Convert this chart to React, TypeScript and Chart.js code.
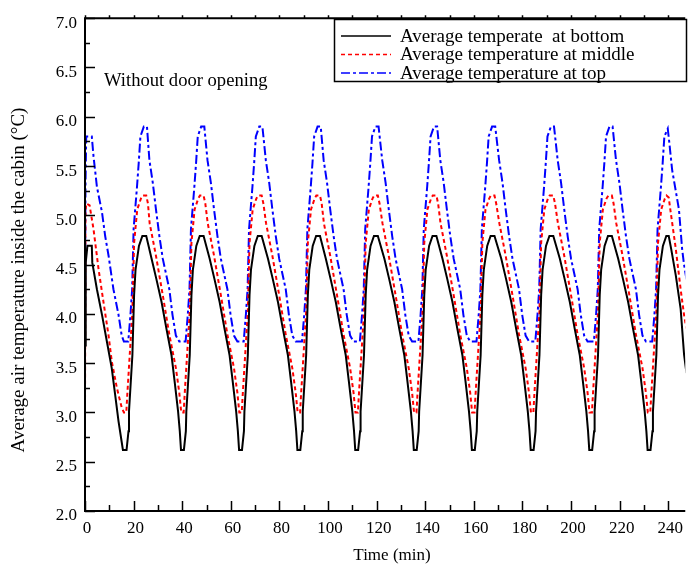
import React, { useEffect, useRef } from 'react';
import { Chart, registerables } from 'chart.js';

Chart.register(...registerables);

const FONT = "'Liberation Serif', 'Times New Roman', Times, serif";

const xTitle = 'Time (min)';
const yTitle = 'Average air temperature inside the cabin (°C)';
const noteText = 'Without door opening';
const seriesNames = ['Average temperate  at bottom', 'Average temperature at middle', 'Average temperature at top'];
const seriesColors = ['#000000', '#ff0000', '#0000ff'];
const seriesDash = [[], [4, 3], [9, 3, 3, 3]];

const xMin = 0;
const xMax = 247;
const xStep = 20;
const xMinorStep = 10;
const yMin = 2;
const yMax = 7;
const yStep = 0.5;
const yMinorStep = 0.25;

// Average temperature at bottom (black)
const bottomTime = [
  0, 0.3, 1.0, 2.8, 3.0, 4.9, 7.0, 9.0, 11.0, 12.4, 13.8, 15.1, 15.6,
  17.1, 17.9, 18.1, 19.5, 20.2, 20.8, 22.2, 23.6, 25.2,
  27.4, 29.4, 31.5, 33.5, 35.6, 36.9, 38.3, 39.0, 39.5, 40.7, 41.5, 41.7, 43.1, 43.8, 44.4, 45.8, 47.2, 48.8,
  51.3, 53.3, 55.4, 57.4, 59.5, 60.8, 62.2, 62.9, 63.4, 64.6, 65.4, 65.6, 67.0, 67.7, 68.3, 69.7, 71.1, 72.7,
  75.3, 77.3, 79.4, 81.4, 83.5, 84.8, 86.2, 86.9, 87.4, 88.6, 89.4, 89.6, 91.0, 91.7, 92.3, 93.7, 95.1, 96.7,
  99.1, 101.1, 103.2, 105.2, 107.3, 108.6, 110.0, 110.7, 111.2, 112.4, 113.2, 113.4, 114.8, 115.5, 116.1, 117.5, 118.9, 120.5,
  123.2, 125.2, 127.3, 129.3, 131.4, 132.7, 134.1, 134.8, 135.3, 136.5, 137.3, 137.5, 138.9, 139.6, 140.2, 141.6, 143.0, 144.6,
  147.1, 149.1, 151.2, 153.2, 155.3, 156.6, 158.0, 158.7, 159.2, 160.4, 161.2, 161.4, 162.8, 163.5, 164.1, 165.5, 166.9, 168.5,
  171.3, 173.3, 175.4, 177.4, 179.5, 180.8, 182.2, 182.9, 183.4, 184.6, 185.4, 185.6, 187.0, 187.7, 188.3, 189.7, 191.1, 192.7,
  195.4, 197.4, 199.5, 201.5, 203.6, 204.9, 206.3, 207.0, 207.5, 208.7, 209.5, 209.7, 211.1, 211.8, 212.4, 213.8, 215.2, 216.8,
  219.4, 221.4, 223.5, 225.5, 227.6, 228.9, 230.3, 231.0, 231.5, 232.7, 233.5, 233.7, 235.1, 235.8, 236.4, 237.8, 239.2, 240.2,
  241.2, 243.1, 245.1, 246.5, 247.5,
];
const bottomTemp = [
  3.68, 4.52, 4.69, 4.69, 4.52, 4.25, 3.99, 3.72, 3.45, 3.18, 2.91, 2.70, 2.62,
  2.62, 2.81, 3.01, 3.58, 4.19, 4.45, 4.69, 4.79, 4.79,
  4.56, 4.35, 4.12, 3.85, 3.58, 3.31, 3.01, 2.81, 2.62, 2.62, 2.81, 3.01, 3.58, 4.19, 4.45, 4.69, 4.79, 4.79,
  4.56, 4.35, 4.12, 3.85, 3.58, 3.31, 3.01, 2.81, 2.62, 2.62, 2.81, 3.01, 3.58, 4.19, 4.45, 4.69, 4.79, 4.79,
  4.56, 4.35, 4.12, 3.85, 3.58, 3.31, 3.01, 2.81, 2.62, 2.62, 2.81, 3.01, 3.58, 4.19, 4.45, 4.69, 4.79, 4.79,
  4.56, 4.35, 4.12, 3.85, 3.58, 3.31, 3.01, 2.81, 2.62, 2.62, 2.81, 3.01, 3.58, 4.19, 4.45, 4.69, 4.79, 4.79,
  4.56, 4.35, 4.12, 3.85, 3.58, 3.31, 3.01, 2.81, 2.62, 2.62, 2.81, 3.01, 3.58, 4.19, 4.45, 4.69, 4.79, 4.79,
  4.56, 4.35, 4.12, 3.85, 3.58, 3.31, 3.01, 2.81, 2.62, 2.62, 2.81, 3.01, 3.58, 4.19, 4.45, 4.69, 4.79, 4.79,
  4.56, 4.35, 4.12, 3.85, 3.58, 3.31, 3.01, 2.81, 2.62, 2.62, 2.81, 3.01, 3.58, 4.19, 4.45, 4.69, 4.79, 4.79,
  4.56, 4.35, 4.12, 3.85, 3.58, 3.31, 3.01, 2.81, 2.62, 2.62, 2.81, 3.01, 3.58, 4.19, 4.45, 4.69, 4.79, 4.79,
  4.56, 4.35, 4.12, 3.85, 3.58, 3.31, 3.01, 2.81, 2.62, 2.62, 2.81, 3.01, 3.58, 4.19, 4.45, 4.69, 4.79, 4.79,
  4.66, 4.39, 4.05, 3.59, 3.40,
];

// Average temperature at middle (red)
const middleTime = [
  0, 0.2, 0.6, 1.9, 3.5, 5.6, 7.6, 9.7, 11.0, 13.1, 15.1, 16.0,
  17.0, 17.4, 19.5, 20.2, 21.5, 23.0, 23.7, 25.2, 25.9,
  26.6, 29.2, 32.0, 34.7, 37.4, 38.8, 39.6, 40.6, 41.0, 43.1, 43.8, 45.1, 46.6, 47.3, 48.8, 49.5,
  50.5, 53.1, 55.9, 58.6, 61.3, 62.7, 63.5, 64.5, 64.9, 67.0, 67.7, 69.0, 70.5, 71.2, 72.7, 73.4,
  74.5, 77.1, 79.9, 82.6, 85.3, 86.7, 87.5, 88.5, 88.9, 91.0, 91.7, 93.0, 94.5, 95.2, 96.7, 97.4,
  98.3, 100.9, 103.7, 106.4, 109.1, 110.5, 111.3, 112.3, 112.7, 114.8, 115.5, 116.8, 118.3, 119.0, 120.5, 121.2,
  122.4, 125.0, 127.8, 130.5, 133.2, 134.6, 135.4, 136.4, 136.8, 138.9, 139.6, 140.9, 142.4, 143.1, 144.6, 145.3,
  146.3, 148.9, 151.7, 154.4, 157.1, 158.5, 159.3, 160.3, 160.7, 162.8, 163.5, 164.8, 166.3, 167.0, 168.5, 169.2,
  170.5, 173.1, 175.9, 178.6, 181.3, 182.7, 183.5, 184.5, 184.9, 187.0, 187.7, 189.0, 190.5, 191.2, 192.7, 193.4,
  194.6, 197.2, 200.0, 202.7, 205.4, 206.8, 207.6, 208.6, 209.0, 211.1, 211.8, 213.1, 214.6, 215.3, 216.8, 217.5,
  218.6, 221.2, 224.0, 226.7, 229.4, 230.8, 231.6, 232.6, 233.0, 235.1, 235.8, 237.1, 238.6,
  239.3, 240.2, 240.9, 243.1, 245.1, 246.5, 247.5,
];
const middleTemp = [
  3.0, 5.05, 5.12, 5.1, 4.86, 4.45, 4.12, 3.78, 3.52, 3.25, 3.05, 3.0,
  3.0, 3.18, 4.02, 4.72, 5.06, 5.17, 5.2, 5.2, 5.12,
  4.92, 4.59, 4.19, 3.79, 3.45, 3.2, 3.0, 3.0, 3.18, 4.02, 4.72, 5.06, 5.17, 5.2, 5.2, 5.12,
  4.92, 4.59, 4.19, 3.79, 3.45, 3.2, 3.0, 3.0, 3.18, 4.02, 4.72, 5.06, 5.17, 5.2, 5.2, 5.12,
  4.92, 4.59, 4.19, 3.79, 3.45, 3.2, 3.0, 3.0, 3.18, 4.02, 4.72, 5.06, 5.17, 5.2, 5.2, 5.12,
  4.92, 4.59, 4.19, 3.79, 3.45, 3.2, 3.0, 3.0, 3.18, 4.02, 4.72, 5.06, 5.17, 5.2, 5.2, 5.12,
  4.92, 4.59, 4.19, 3.79, 3.45, 3.2, 3.0, 3.0, 3.18, 4.02, 4.72, 5.06, 5.17, 5.2, 5.2, 5.12,
  4.92, 4.59, 4.19, 3.79, 3.45, 3.2, 3.0, 3.0, 3.18, 4.02, 4.72, 5.06, 5.17, 5.2, 5.2, 5.12,
  4.92, 4.59, 4.19, 3.79, 3.45, 3.2, 3.0, 3.0, 3.18, 4.02, 4.72, 5.06, 5.17, 5.2, 5.2, 5.12,
  4.92, 4.59, 4.19, 3.79, 3.45, 3.2, 3.0, 3.0, 3.18, 4.02, 4.72, 5.06, 5.17, 5.2, 5.2, 5.12,
  4.92, 4.59, 4.19, 3.79, 3.45, 3.2, 3.0, 3.0, 3.18, 4.02, 4.72, 5.06, 5.17,
  5.2, 5.18, 5.05, 4.66, 4.25, 3.99, 3.85,
];

// Average temperature at top (blue)
const topTime = [
  0, 0.2, 0.5, 2.8, 3.5, 4.9, 7.0, 8.3, 9.7, 11.7, 13.8, 15.1, 16.0,
  17.8, 18.7, 19.4, 20.0, 21.4, 22.1, 22.8, 24.2, 25.5,
  26.5, 27.9, 29.2, 30.6, 32.0, 34.7, 36.0, 37.4, 38.8, 41.4, 42.3, 43.0, 43.6, 45.0, 45.7, 46.4, 47.8, 49.1,
  50.4, 51.8, 53.1, 54.5, 55.9, 58.6, 59.9, 61.3, 62.7, 65.3, 66.2, 66.9, 67.5, 68.9, 69.6, 70.3, 71.7, 73.0,
  74.4, 75.8, 77.1, 78.5, 79.9, 82.6, 83.9, 85.3, 86.7, 89.3, 90.2, 90.9, 91.5, 92.9, 93.6, 94.3, 95.7, 97.0,
  98.2, 99.6, 100.9, 102.3, 103.7, 106.4, 107.7, 109.1, 110.5, 113.1, 114.0, 114.7, 115.3, 116.7, 117.4, 118.1, 119.5, 120.8,
  122.3, 123.7, 125.0, 126.4, 127.8, 130.5, 131.8, 133.2, 134.6, 137.2, 138.1, 138.8, 139.4, 140.8, 141.5, 142.2, 143.6, 144.9,
  146.2, 147.6, 148.9, 150.3, 151.7, 154.4, 155.7, 157.1, 158.5, 161.1, 162.0, 162.7, 163.3, 164.7, 165.4, 166.1, 167.5, 168.8,
  170.4, 171.8, 173.1, 174.5, 175.9, 178.6, 179.9, 181.3, 182.7, 185.3, 186.2, 186.9, 187.5, 188.9, 189.6, 190.3, 191.7, 193.0,
  194.5, 195.9, 197.2, 198.6, 200.0, 202.7, 204.0, 205.4, 206.8, 209.4, 210.3, 211.0, 211.6, 213.0, 213.7, 214.4, 215.8, 217.1,
  218.5, 219.9, 221.2, 222.6, 224.0, 226.7, 228.0, 229.4, 230.8, 233.4, 234.3, 235.0, 235.6, 237.0, 237.7, 238.4,
  239.8, 240.6, 241.6, 244.4, 245.7, 246.5, 247.5,
];
const topTemp = [
  3.72, 5.3, 5.8, 5.8, 5.6, 5.29, 5.03, 4.79, 4.59, 4.25, 3.99, 3.78, 3.72,
  3.72, 3.99, 4.25, 4.86, 5.29, 5.53, 5.8, 5.9, 5.9,
  5.56, 5.33, 5.06, 4.79, 4.56, 4.25, 3.99, 3.78, 3.72, 3.72, 3.99, 4.25, 4.86, 5.29, 5.53, 5.8, 5.9, 5.9,
  5.56, 5.33, 5.06, 4.79, 4.56, 4.25, 3.99, 3.78, 3.72, 3.72, 3.99, 4.25, 4.86, 5.29, 5.53, 5.8, 5.9, 5.9,
  5.56, 5.33, 5.06, 4.79, 4.56, 4.25, 3.99, 3.78, 3.72, 3.72, 3.99, 4.25, 4.86, 5.29, 5.53, 5.8, 5.9, 5.9,
  5.56, 5.33, 5.06, 4.79, 4.56, 4.25, 3.99, 3.78, 3.72, 3.72, 3.99, 4.25, 4.86, 5.29, 5.53, 5.8, 5.9, 5.9,
  5.56, 5.33, 5.06, 4.79, 4.56, 4.25, 3.99, 3.78, 3.72, 3.72, 3.99, 4.25, 4.86, 5.29, 5.53, 5.8, 5.9, 5.9,
  5.56, 5.33, 5.06, 4.79, 4.56, 4.25, 3.99, 3.78, 3.72, 3.72, 3.99, 4.25, 4.86, 5.29, 5.53, 5.8, 5.9, 5.9,
  5.56, 5.33, 5.06, 4.79, 4.56, 4.25, 3.99, 3.78, 3.72, 3.72, 3.99, 4.25, 4.86, 5.29, 5.53, 5.8, 5.9, 5.9,
  5.56, 5.33, 5.06, 4.79, 4.56, 4.25, 3.99, 3.78, 3.72, 3.72, 3.99, 4.25, 4.86, 5.29, 5.53, 5.8, 5.9, 5.9,
  5.56, 5.33, 5.06, 4.79, 4.56, 4.25, 3.99, 3.78, 3.72, 3.72, 3.99, 4.25, 4.86, 5.29, 5.53, 5.8,
  5.88, 5.7, 5.46, 5.06, 4.66, 4.5, 4.35,
];

const toPoints = (xs: number[], ys: number[]) => xs.map((x, i) => ({ x, y: ys[i] }));

export default function App() {
  const ref = useRef<HTMLCanvasElement>(null);

  useEffect(() => {
    const canvas = ref.current;
    if (!canvas) return;

    const framePlugin = {
      id: 'framePlugin',
      afterDraw(chart: any) {
        const { ctx, chartArea: a, scales } = chart;
        const xs = scales.x;
        const ys = scales.y;
        ctx.save();
        ctx.setLineDash([]);
        ctx.strokeStyle = '#000';
        ctx.lineWidth = 2;
        ctx.beginPath();
        ctx.moveTo(a.left - 1, a.top);
        ctx.lineTo(a.right, a.top);
        ctx.moveTo(a.left, a.top - 1);
        ctx.lineTo(a.left, a.bottom + 1);
        ctx.moveTo(a.left - 1, a.bottom);
        ctx.lineTo(a.right, a.bottom);
        ctx.stroke();

        // inward ticks
        ctx.lineWidth = 1.5;
        ctx.beginPath();
        const nY = Math.round((yMax - yMin) / yMinorStep);
        for (let i = 0; i <= nY; i++) {
          const v = yMin + i * yMinorStep;
          const py = Math.round(ys.getPixelForValue(v)) + 0.5;
          const major = i % Math.round(yStep / yMinorStep) === 0;
          ctx.moveTo(a.left, py);
          ctx.lineTo(a.left + (major ? 10 : 5), py);
        }
        const nX = Math.floor((xMax - xMin) / xMinorStep);
        for (let i = 0; i <= nX; i++) {
          const v = xMin + i * xMinorStep;
          const px = Math.round(xs.getPixelForValue(v)) + 0.5;
          const major = i % Math.round(xStep / xMinorStep) === 0;
          ctx.moveTo(px, a.bottom);
          ctx.lineTo(px, a.bottom - (major ? 10 : 6));
          ctx.moveTo(px, a.top);
          ctx.lineTo(px, a.top - 3);
        }
        ctx.stroke();

        // legend box
        const lx = 334.5, ly = 19.5, lw = 352, lh = 62;
        ctx.fillStyle = '#fff';
        ctx.fillRect(lx, ly, lw, lh);
        ctx.lineWidth = 1.5;
        ctx.strokeRect(lx, ly, lw, lh);
        ctx.font = `19px ${FONT}`;
        ctx.textBaseline = 'middle';
        ctx.textAlign = 'left';
        chart.data.datasets.forEach((ds: any, i: number) => {
          const ry = 36 + i * 18.5;
          ctx.save();
          ctx.strokeStyle = ds.borderColor;
          ctx.lineWidth = 1.5;
          ctx.setLineDash(ds.borderDash || []);
          ctx.beginPath();
          ctx.moveTo(341, ry);
          ctx.lineTo(391, ry);
          ctx.stroke();
          ctx.restore();
          ctx.fillStyle = '#000';
          ctx.fillText(ds.label, 400, ry + 1);
        });

        // annotation
        ctx.fillStyle = '#000';
        ctx.font = `18.6px ${FONT}`;
        ctx.textAlign = 'left';
        ctx.textBaseline = 'middle';
        ctx.fillText(noteText, 104, 81);

        // axis titles
        ctx.textAlign = 'center';
        ctx.font = `17px ${FONT}`;
        ctx.fillText(xTitle, 392, 556);
        ctx.save();
        ctx.translate(19, 280);
        ctx.rotate(-Math.PI / 2);
        ctx.font = `19px ${FONT}`;
        ctx.fillText(yTitle, 0, 0);
        ctx.restore();
        ctx.restore();
      },
    };

    const datasets = [
      toPoints(bottomTime, bottomTemp),
      toPoints(middleTime, middleTemp),
      toPoints(topTime, topTemp),
    ].map((data, i) => ({
      label: seriesNames[i],
      data,
      borderColor: seriesColors[i],
      backgroundColor: seriesColors[i],
      borderWidth: 2,
      borderDash: seriesDash[i],
      pointRadius: 0,
      fill: false,
      tension: 0,
    }));

    const chart = new Chart(canvas, {
      type: 'line',
      data: { datasets },
      options: {
        animation: false,
        responsive: false,
        devicePixelRatio: 1,
        layout: { padding: { top: 14, left: 0, right: 0, bottom: 0 } },
        plugins: {
          legend: { display: false },
          tooltip: { enabled: false },
          title: { display: false },
        },
        scales: {
          x: {
            type: 'linear',
            min: xMin,
            max: xMax,
            afterFit: (s: any) => { s.height = 56; },
            grid: { display: false, drawTicks: false },
            border: { display: false },
            ticks: {
              stepSize: xStep,
              includeBounds: false,
              autoSkip: false,
              maxRotation: 0,
              padding: 7,
              labelOffset: 2,
              color: '#000',
              font: { family: FONT, size: 17 },
            },
          },
          y: {
            type: 'linear',
            min: yMin,
            max: yMax,
            afterFit: (s: any) => { s.width = 85; },
            grid: { display: false, drawTicks: false },
            border: { display: false },
            ticks: {
              stepSize: yStep,
              includeBounds: false,
              padding: 8,
              labelOffset: 5,
              color: '#000',
              font: { family: FONT, size: 17 },
              callback: (v: any) => Number(v).toFixed(1),
            },
          },
        },
      },
      plugins: [framePlugin],
    } as any);

    return () => chart.destroy();
  }, []);

  return (
    <div style={{ position: 'absolute', left: 0, top: 0, width: 688, height: 567, background: '#fff' }}>
      <canvas ref={ref} width={688} height={567} />
    </div>
  );
}
